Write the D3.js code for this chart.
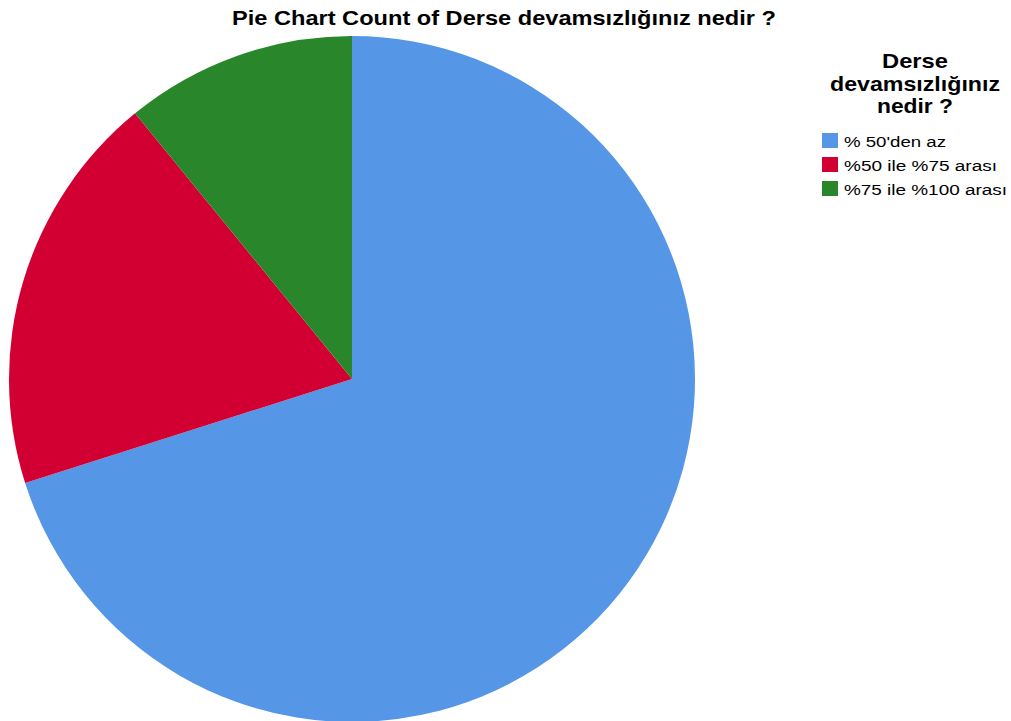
<!DOCTYPE html>
<html><head><meta charset="utf-8">
<script src="https://cdn.jsdelivr.net/npm/d3@7"></script>
<style>body{margin:0;background:#fff}svg{display:block}</style>
</head><body>
<svg id="c" width="1011" height="721"></svg>
<script>
const categories = ["% 50'den az", "%50 ile %75 arası", "%75 ile %100 arası"];
const values = [70.1, 19.0, 10.9];
const colors = ["#5596e6", "#d20032", "#29862a"];
const titleText = "Pie Chart Count of Derse devamsızlığınız nedir ?";
const legendTitle = ["Derse", "devamsızlığınız", "nedir ?"];

const svg = d3.select("#c");
const font = "'Liberation Sans', Arial, sans-serif";
svg.append("text").attr("x", 504).attr("y", 25).attr("text-anchor", "middle")
  .attr("font-family", font).attr("font-weight", "bold").attr("font-size", 21)
  .attr("textLength", 544).attr("lengthAdjust", "spacingAndGlyphs")
  .attr("fill", "#000").text(titleText);

const cx = 352, cy = 379, r = 343;
const pie = d3.pie().sort(null).value(d => d)(values);
const arc = d3.arc().innerRadius(0).outerRadius(r);
svg.append("g").attr("transform", `translate(${cx},${cy})`)
  .selectAll("path").data(pie).join("path")
  .attr("d", arc).attr("fill", (d, i) => colors[i]);

const ltWidths = [66, 170, 76];
const lg = svg.append("g");
lg.selectAll("text.t").data(legendTitle).join("text").attr("class", "t")
  .attr("x", 915).attr("y", (d, i) => 68 + i * 22.7).attr("text-anchor", "middle")
  .attr("font-family", font).attr("font-weight", "bold").attr("font-size", 21)
  .attr("textLength", (d, i) => ltWidths[i]).attr("lengthAdjust", "spacingAndGlyphs")
  .attr("fill", "#000").text(d => d);
const itWidths = [102, 153, 163];
const items = lg.selectAll("g.i").data(categories).join("g").attr("class", "i")
  .attr("transform", (d, i) => `translate(822,${133 + i * 24})`);
items.append("rect").attr("width", 16).attr("height", 15).attr("fill", (d, i) => colors[i]);
items.append("text").attr("x", 22).attr("y", 14).attr("font-family", font).attr("font-size", 15.5)
  .attr("textLength", (d, i) => itWidths[i]).attr("lengthAdjust", "spacingAndGlyphs")
  .attr("fill", "#000").text(d => d);
</script>
</body></html>
